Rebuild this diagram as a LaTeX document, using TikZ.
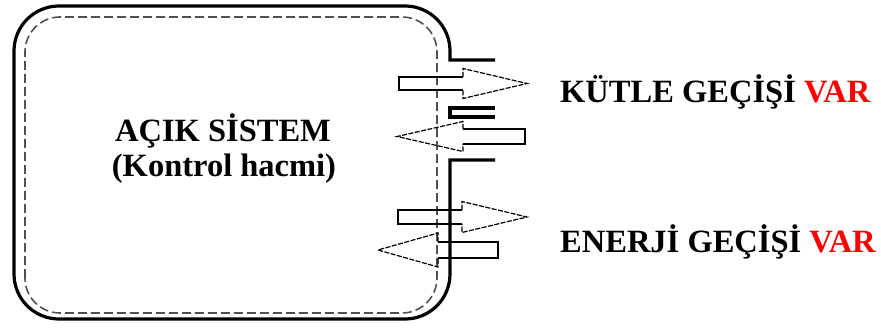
\documentclass[tikz,border=0pt]{standalone}
\usepackage{fontspec}
\setmainfont{Liberation Serif}
\usepackage{tikz}
\usetikzlibrary{calc}

\definecolor{cvgray}{RGB}{80,80,80}
\tikzset{
  wall/.style={line width=3.2pt},
  cvline/.style={cvgray, line width=1.6pt, dash pattern=on 9pt off 4pt},
  arrowbody/.style={line width=1.2pt},
  arrowhead/.style={line width=1.2pt, dash pattern=on 5pt off 1.5pt},
  bigtext/.style={font=\fontsize{32.5}{39}\selectfont\bfseries, inner sep=0pt}
}

\begin{document}
\begin{tikzpicture}[x=1pt,y=1pt]
  \useasboundingbox (0,0) rectangle (881,327);
  % wall with openings
  \draw[wall] (495,267) -- (450,267) -- (450,276)
    arc[start angle=0,end angle=90,radius=45] -- (59,321)
    arc[start angle=90,end angle=180,radius=45] -- (14,53)
    arc[start angle=180,end angle=270,radius=45] -- (405,8)
    arc[start angle=270,end angle=360,radius=45] -- (450,167) -- (495,167);
  \draw[wall] (495,219) -- (450,219) -- (450,210) -- (495,210);
  % control surface
  \draw[cvline, rounded corners=35pt] (25,14) rectangle (437,310);
  % block arrows: base, tail, tip, centre, half body, half head
  \foreach \xb/\xt/\xp/\yc/\hb/\hh in {463/399/527/243.5/6.5/15,
                                       463/525/397/190.5/7.5/15,
                                       462/398/527/110/7/15.5,
                                       438/498/378/77/8/17}
  {
    \draw[arrowbody] (\xb,\yc+\hb) -- (\xt,\yc+\hb) -- (\xt,\yc-\hb) -- (\xb,\yc-\hb);
    \draw[arrowhead] (\xb,\yc+\hb) -- (\xb,\yc+\hh) -- (\xp,\yc) -- (\xb,\yc-\hh) -- (\xb,\yc-\hb);
  }
  \node[bigtext, anchor=base] (sysname) at (223,185) {AÇIK SİSTEM};
  \node[bigtext, anchor=base] (syskind) at (224,150) {(Kontrol hacmi)};
  \node[bigtext, anchor=base west] (mass) at (560,224) {KÜTLE GEÇİŞİ \textcolor{red}{VAR}};
  \node[bigtext, anchor=base west] (energy) at (560,75) {ENERJİ GEÇİŞİ \textcolor{red}{VAR}};
\end{tikzpicture}
\end{document}
